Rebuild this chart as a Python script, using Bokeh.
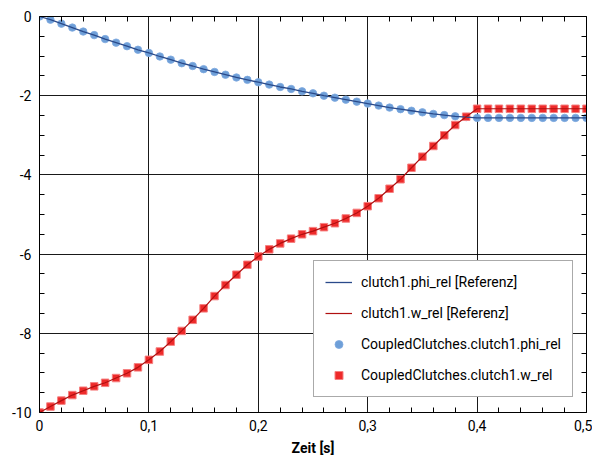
from bokeh.plotting import figure
from bokeh.models import Range1d, FixedTicker, LinearAxis, Legend, LegendItem
from bokeh.embed import file_html
from bokeh.resources import INLINE

# ---- data ----
t = [0.00, 0.01, 0.02, 0.03, 0.04, 0.05, 0.06, 0.07, 0.08, 0.09,
     0.10, 0.11, 0.12, 0.13, 0.14, 0.15, 0.16, 0.17, 0.18, 0.19,
     0.20, 0.21, 0.22, 0.23, 0.24, 0.25, 0.26, 0.27, 0.28, 0.29,
     0.30, 0.31, 0.32, 0.33, 0.34, 0.35, 0.36, 0.37, 0.38, 0.39,
     0.40, 0.41, 0.42, 0.43, 0.44, 0.45, 0.46, 0.47, 0.48, 0.49, 0.50]
phi_rel = [0.00, -0.08, -0.18, -0.28, -0.38, -0.47, -0.57, -0.66, -0.75, -0.84,
           -0.92, -1.01, -1.09, -1.18, -1.25, -1.33, -1.40, -1.47, -1.54, -1.60,
           -1.66, -1.72, -1.78, -1.83, -1.89, -1.94, -2.00, -2.05, -2.10, -2.15,
           -2.20, -2.25, -2.30, -2.34, -2.38, -2.42, -2.46, -2.49, -2.52, -2.54,
           -2.56, -2.56, -2.56, -2.56, -2.56, -2.56, -2.56, -2.56, -2.56, -2.56, -2.56]
w_rel = [-10.00, -9.85, -9.70, -9.56, -9.45, -9.34, -9.25, -9.13, -9.01, -8.86,
         -8.67, -8.46, -8.21, -7.94, -7.66, -7.37, -7.06, -6.78, -6.52, -6.27,
         -6.06, -5.88, -5.73, -5.61, -5.50, -5.42, -5.32, -5.22, -5.10, -4.96,
         -4.79, -4.59, -4.35, -4.11, -3.82, -3.54, -3.27, -3.00, -2.74, -2.53,
         -2.33, -2.33, -2.33, -2.33, -2.33, -2.33, -2.33, -2.33, -2.33, -2.33, -2.33]

x_ticks = [0, 0.1, 0.2, 0.3, 0.4, 0.5]
x_tick_labels = ["0", "0,1", "0,2", "0,3", "0,4", "0,5"]
x_minor = [0.02, 0.04, 0.06, 0.08, 0.12, 0.14, 0.16, 0.18, 0.22, 0.24, 0.26, 0.28,
           0.32, 0.34, 0.36, 0.38, 0.42, 0.44, 0.46, 0.48]
y_ticks = [-10, -8, -6, -4, -2, 0]
y_tick_labels = ["-10", "-8", "-6", "-4", "-2", "0"]
y_minor = [-9.5, -9, -8.5, -7.5, -7, -6.5, -5.5, -5, -4.5, -3.5, -3, -2.5,
           -1.5, -1, -0.5]
x_label = "Zeit [s]"
labels = ["clutch1.phi_rel [Referenz]", "clutch1.w_rel [Referenz]",
          "CoupledClutches.clutch1.phi_rel", "CoupledClutches.clutch1.w_rel"]

FONT = "Roboto"

p = figure(width=592, height=461, output_backend="svg", toolbar_location=None,
           x_range=Range1d(0, 0.5), y_range=Range1d(-10, 0),
           min_border_left=39, min_border_right=6, min_border_top=16,
           min_border_bottom=49)
p.outline_line_color = "black"
p.outline_line_width = 1

xt = FixedTicker(ticks=x_ticks, minor_ticks=x_minor)
yt = FixedTicker(ticks=y_ticks, minor_ticks=y_minor)

def style_axis(ax, ticker):
    ax.ticker = ticker
    ax.axis_line_color = "black"
    ax.major_tick_out = 0
    ax.major_tick_in = 0
    ax.minor_tick_out = 0
    ax.minor_tick_in = 5
    ax.minor_tick_line_color = "black"
    ax.major_label_text_font = FONT
    ax.major_label_text_font_size = "14px"
    ax.major_label_text_color = "black"
    ax.major_label_standoff = 7

xa = p.xaxis[0]
style_axis(xa, xt)
xa.major_label_overrides = dict(zip(x_ticks, x_tick_labels))
xa.axis_label = x_label
xa.axis_label_text_font = FONT
xa.axis_label_text_font_style = "bold"
xa.axis_label_text_font_size = "14px"
xa.axis_label_standoff = 6
xa.axis_label_text_color = "black"

ya = p.yaxis[0]
style_axis(ya, yt)
ya.major_label_overrides = dict(zip(y_ticks, y_tick_labels))
ya.major_label_standoff = 8

# top and right axes: only inward minor ticks, no labels
top = LinearAxis()
style_axis(top, FixedTicker(ticks=[], minor_ticks=x_minor))
top.major_label_standoff = 0
p.add_layout(top, "above")
right = LinearAxis()
style_axis(right, FixedTicker(ticks=[], minor_ticks=y_minor))
right.major_label_standoff = 0
p.add_layout(right, "right")

p.xgrid.ticker = xt
p.ygrid.ticker = yt
for g in (p.xgrid[0], p.ygrid[0]):
    g.grid_line_color = "black"
    g.grid_line_width = 1
    g.grid_line_alpha = 0.9

s_phi = p.scatter(t, phi_rel, marker="circle", size=7.5, fill_color="#6e9fd8",
                  line_color="#7faae0", line_width=0.8)
s_w = p.scatter(t, w_rel, marker="square", size=7.5, fill_color="#ee2a2a",
                line_color="#f58080", line_width=1)
l_phi = p.line(t, phi_rel, line_color="#2a4a8a", line_width=1.3)
l_w = p.line(t, w_rel, line_color="#b01010", line_width=1.2)

legend = Legend(items=[LegendItem(label=labels[0], renderers=[l_phi]),
                       LegendItem(label=labels[1], renderers=[l_w]),
                       LegendItem(label=labels[2], renderers=[s_phi]),
                       LegendItem(label=labels[3], renderers=[s_w])],
                location=(274, 15))
legend.label_text_font = FONT
legend.label_text_font_size = "14px"
legend.label_text_color = "black"
legend.glyph_width = 27
legend.glyph_height = 20
legend.label_height = 20
legend.spacing = 11
legend.padding = 11
legend.margin = 0
legend.label_standoff = 9
legend.border_line_color = "#555555"
legend.border_line_width = 1
legend.background_fill_color = "white"
legend.background_fill_alpha = 1
p.add_layout(legend, "center")

open("out.html", "w").write(file_html(p, INLINE))
